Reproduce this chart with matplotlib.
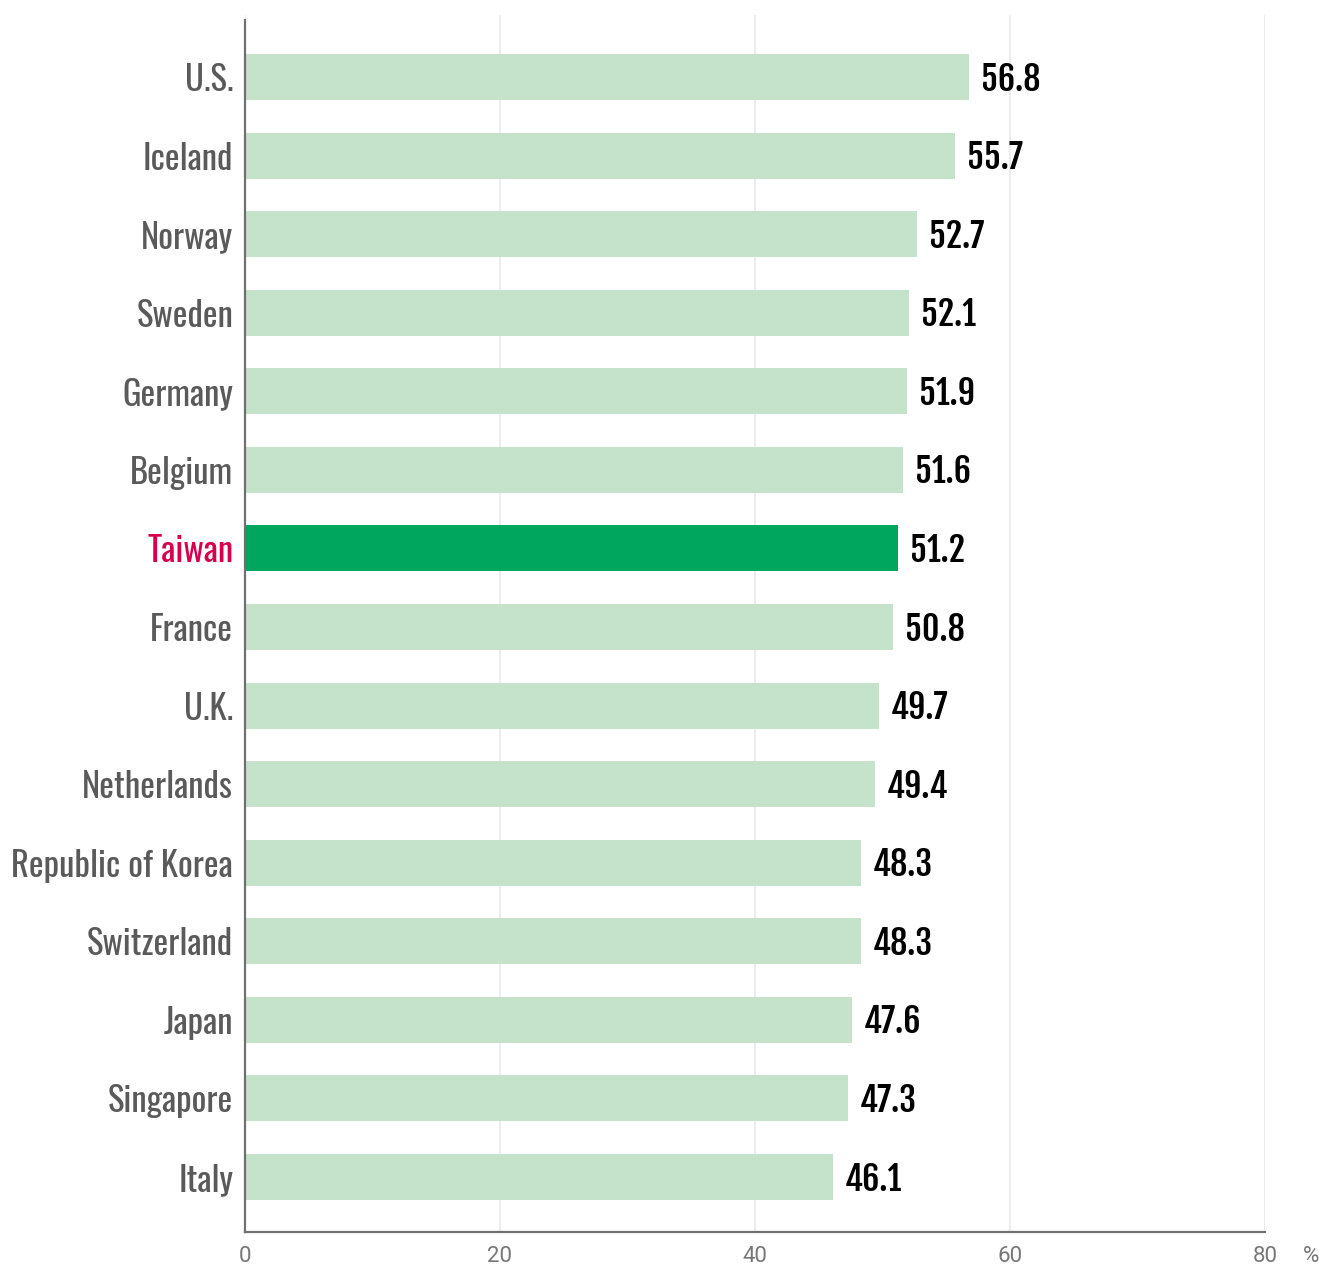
import matplotlib
matplotlib.use("Agg")
import matplotlib.pyplot as plt
import matplotlib.transforms as mtransforms

countries = ["U.S.", "Iceland", "Norway", "Sweden", "Germany", "Belgium", "Taiwan",
             "France", "U.K.", "Netherlands", "Republic of Korea", "Switzerland",
             "Japan", "Singapore", "Italy"]
values = [56.8, 55.7, 52.7, 52.1, 51.9, 51.6, 51.2, 50.8, 49.7, 49.4, 48.3, 48.3,
          47.6, 47.3, 46.1]
highlight = "Taiwan"
xticks = [0, 20, 40, 60, 80]
unit_label = "%"

W, H = 1323, 1266
fig = plt.figure(figsize=(W / 100, H / 100), dpi=100)
left, right, top, bottom = 245, 1265, 15, 1232
ax = fig.add_axes([left / W, 1 - bottom / H, (right - left) / W, (bottom - top) / H])

light = "#c5e3ca"
dark = "#00a65e"
pos = list(range(len(countries)))
colors = [dark if c == highlight else light for c in countries]
ax.barh(pos, values, height=0.585, color=colors, zorder=2)

ax.set_xlim(0, 80)
ax.set_ylim(14.70, -0.79)

ax.set_yticks(pos)
ax.set_yticklabels(countries, family=["Oswald", "DejaVu Sans"], fontsize=25, color="#5a5a5a")
for lbl in ax.get_yticklabels():
    if lbl.get_text() == highlight:
        lbl.set_color("#d6004f")
ax.tick_params(axis="y", length=0, pad=8.5)

ax.set_xticks(xticks)
ax.set_xticklabels([str(t) for t in xticks], family=["Roboto", "DejaVu Sans"], fontsize=16, color="#777777")
ax.tick_params(axis="x", length=0, pad=10)

ax.xaxis.grid(True, color="#ececec", lw=1.3, zorder=0)
ax.set_axisbelow(True)

for s in ["top", "right"]:
    ax.spines[s].set_visible(False)
for s in ["left", "bottom"]:
    ax.spines[s].set_color("#707070")
    ax.spines[s].set_linewidth(1.6)
ax.spines["left"].set_bounds(14.70, -0.72)

for p, v in zip(pos, values):
    ax.annotate(f"{v}", (v, p), xytext=(8.5, -1.5), textcoords="offset points",
                va="center", ha="left", family=["Fjalla One", "DejaVu Sans"],
                fontsize=24.5, color="#000000")

trans = mtransforms.blended_transform_factory(ax.transData, ax.transAxes)
ax.annotate(unit_label, (80, 0), xycoords=trans, xytext=(33, -10), textcoords="offset points",
            ha="center", va="top", family=["Roboto", "DejaVu Sans"], fontsize=16, color="#777777")

fig.savefig("out.png", dpi=100)
